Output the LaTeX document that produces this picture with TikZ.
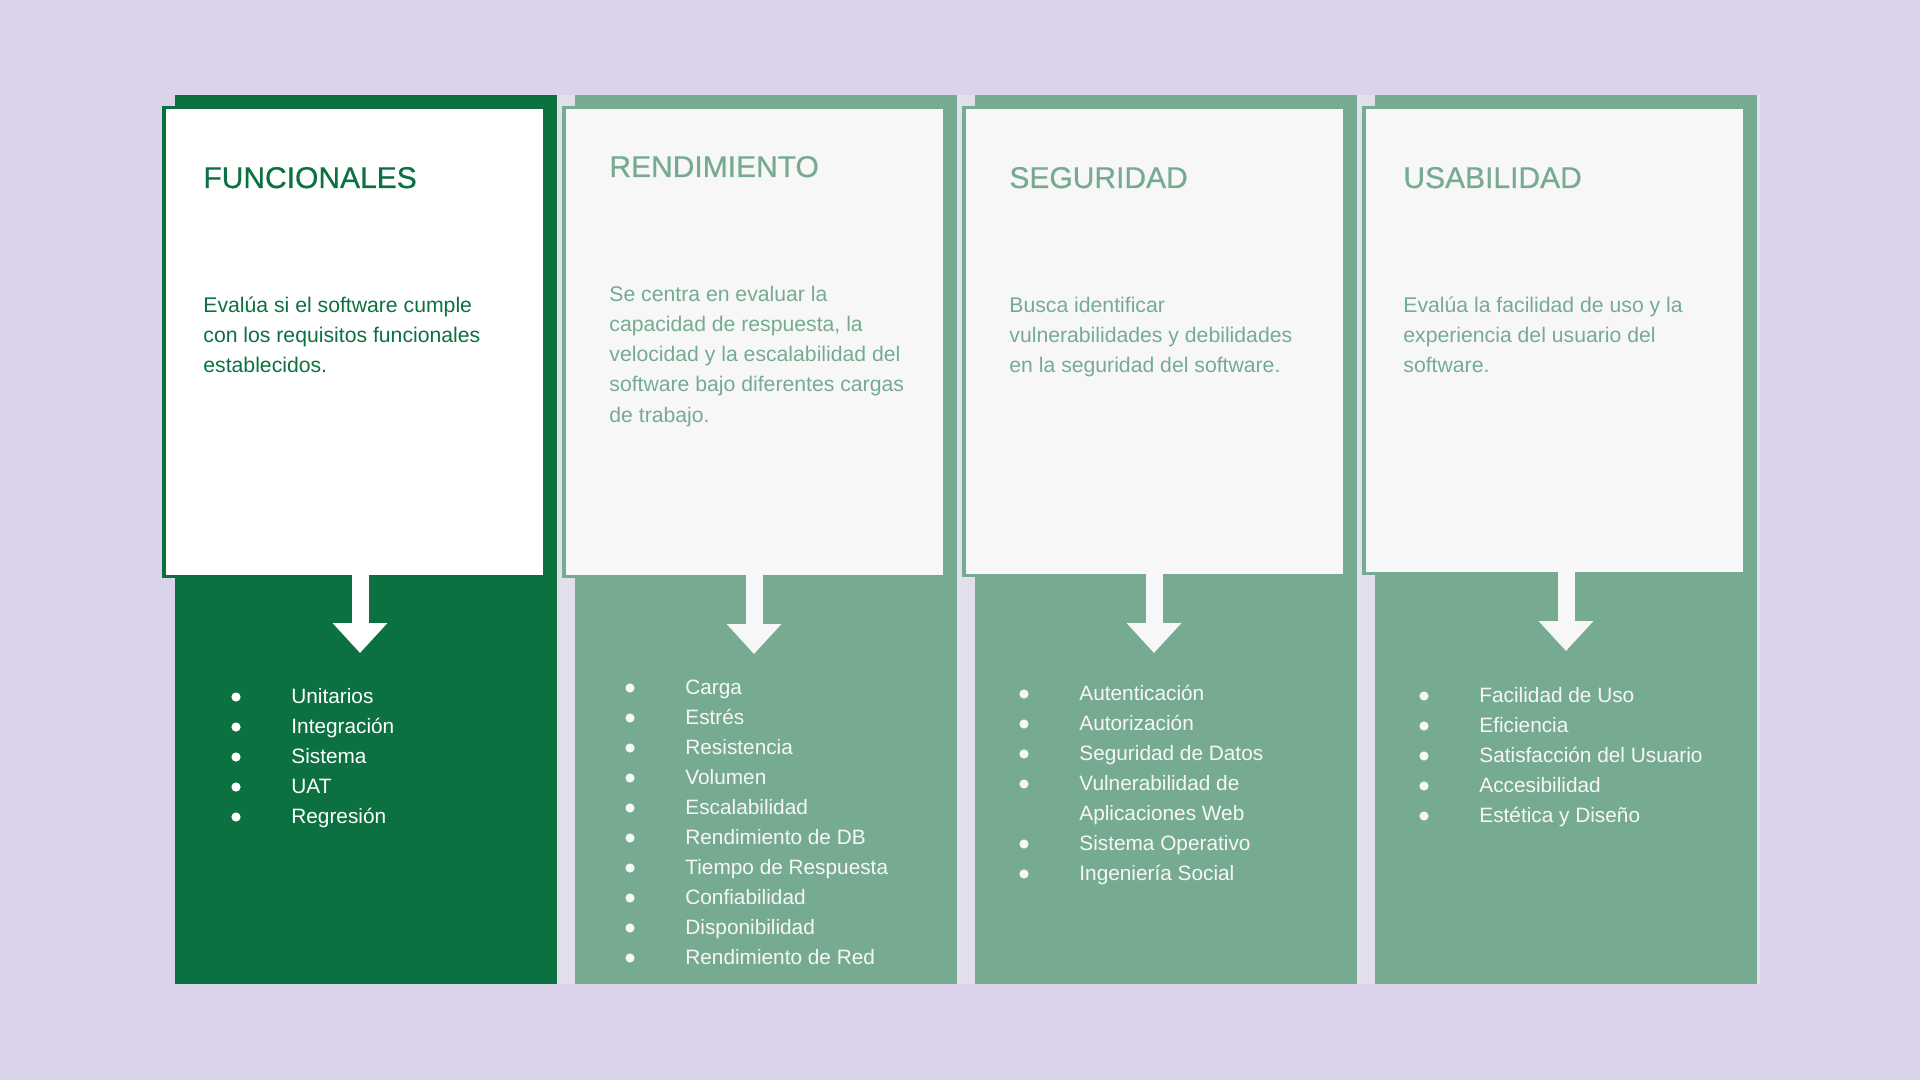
\documentclass[tikz,border=0pt]{standalone}
\usepackage{fontspec}
\setmainfont{Liberation Sans}
\newfontfamily\headfont[FakeBold=0.6]{Liberation Sans}
\usetikzlibrary{arrows.meta}
\definecolor{lavender}{RGB}{218,211,233}
\definecolor{panel}{RGB}{227,223,236}
\definecolor{forest}{RGB}{12,113,65}
\definecolor{sage}{RGB}{118,171,145}
\definecolor{paper}{RGB}{247,247,247}
\begin{document}
\begin{tikzpicture}[x=0.5pt,y=-0.5pt,
  column/.style={anchor=north west,inner sep=0,outer sep=0,minimum width=191pt,minimum height=444.5pt},
  card/.style={inner sep=0,line width=1.75pt,minimum width=190.5pt},
  title/.style={anchor=base west,inner sep=0,font=\headfont\fontsize{15pt}{18pt}\selectfont},
  % multi-line nodes: the base anchor sits on the last line
  body/.style={anchor=base west,inner sep=0,align=left,font=\fontsize{10.6pt}{15pt}\selectfont},
  item/.style={anchor=base west,inner sep=0,align=left,font=\fontsize{10.4pt}{15pt}\selectfont},
  flow/.style={line width=8.5pt,-{Triangle[width=26.5pt,length=15pt]}}]
% page and backing panel
\fill[lavender] (0,0) rectangle (1920,1080);
\useasboundingbox (0,0) rectangle (1920,1080);
\fill[panel] (175,95) rectangle (1760,984);

% the four columns
\node[column,fill=forest] (col1) at (175,95) {};
\node[column,fill=sage] (col2) at (575,95) {};
\node[column,fill=sage] (col3) at (975,95) {};
\node[column,fill=sage] (col4) at (1375,95) {};

% description cards
\node[card,draw=forest,fill=white,minimum height=234.25pt] (card1) at (354.25,342) {};
\node[card,draw=sage,fill=paper,minimum height=234.25pt] (card2) at (754.25,342) {};
\node[card,draw=sage,fill=paper,minimum height=233.75pt] (card3) at (1154.25,341.5) {};
\node[card,draw=sage,fill=paper,minimum height=232.75pt] (card4) at (1554.25,340.5) {};

% headings
\node[title,text=forest] (h1) at (203,188) {FUNCIONALES};
\node[title,text=sage] (h2) at (609,177) {RENDIMIENTO};
\node[title,text=sage] (h3) at (1009,188) {SEGURIDAD};
\node[title,text=sage] (h4) at (1403,188) {USABILIDAD};

% descriptions (positioned by their last line)
\node[body,text=forest] (d1) at (203,372) {Evalúa si el software cumple\\con los requisitos funcionales\\establecidos.};
\node[body,text=sage] (d2) at (609,422) {Se centra en evaluar la\\capacidad de respuesta, la\\velocidad y la escalabilidad del\\software bajo diferentes cargas\\de trabajo.};
\node[body,text=sage] (d3) at (1009,372) {Busca identificar\\vulnerabilidades y debilidades\\en la seguridad del software.};
\node[body,text=sage] (d4) at (1403,372) {Evalúa la facilidad de uso y la\\experiencia del usuario del\\software.};

% arrows from each card into its list
\coordinate (a1) at (360,653);
\coordinate (a2) at (754,654);
\coordinate (a3) at (1154,653);
\coordinate (a4) at (1566,651);
\draw[flow,white] ([yshift=2.5pt]card1.south -| a1) -- (a1);
\draw[flow,paper] ([yshift=2.5pt]card2.south -| a2) -- (a2);
\draw[flow,paper] ([yshift=2.5pt]card3.south -| a3) -- (a3);
\draw[flow,paper] ([yshift=2.5pt]card4.south -| a4) -- (a4);

% lists
\foreach \t [count=\i] in {Unitarios,Integración,Sistema,UAT,Regresión} {
  \node[item,text=white] (f\i) at (291,{703+30*(\i-1)}) {\t};
  \fill[white] (236,{697+30*(\i-1)}) circle[radius=2.3pt];
}
\foreach \t [count=\i] in {Carga,Estrés,Resistencia,Volumen,Escalabilidad,Rendimiento de DB,Tiempo de Respuesta,Confiabilidad,Disponibilidad,Rendimiento de Red} {
  \node[item,text=paper] (r\i) at (685,{694+30*(\i-1)}) {\t};
  \fill[paper] (630,{688+30*(\i-1)}) circle[radius=2.3pt];
}
\foreach \t/\y/\b [count=\i] in {Autenticación/700/700,Autorización/730/730,Seguridad de Datos/760/760,{Vulnerabilidad de\\Aplicaciones Web}/820/790,Sistema Operativo/850/850,Ingeniería Social/880/880} {
  \node[item,text=paper] (s\i) at (1079,\y) {\t};
  \fill[paper] (1024,\b-6) circle[radius=2.3pt];
}
\foreach \t [count=\i] in {Facilidad de Uso,Eficiencia,Satisfacción del Usuario,Accesibilidad,Estética y Diseño} {
  \node[item,text=paper] (u\i) at (1479,{702+30*(\i-1)}) {\t};
  \fill[paper] (1424,{696+30*(\i-1)}) circle[radius=2.3pt];
}
\end{tikzpicture}
\end{document}
